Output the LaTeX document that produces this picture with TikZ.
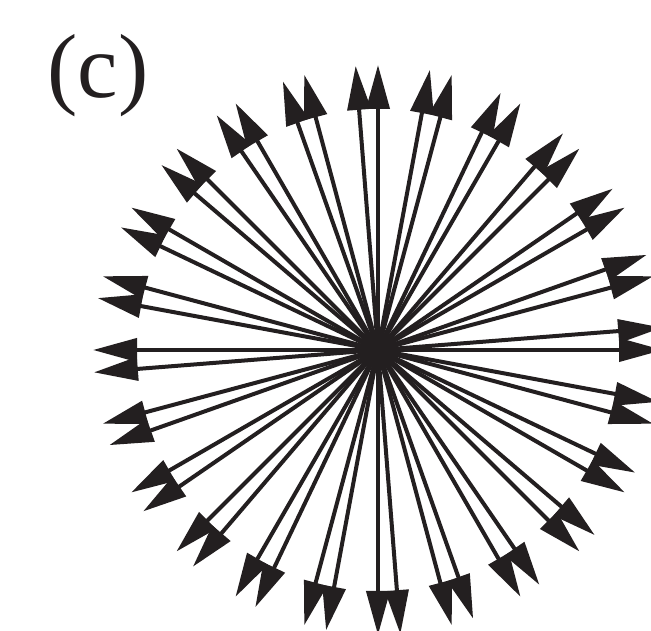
\documentclass[tikz,border=0pt]{standalone}
\usepackage{fontspec}
\setmainfont{Liberation Serif}
\usetikzlibrary{arrows.meta}
\definecolor{ink}{RGB}{35,31,32}
\begin{document}
\begin{tikzpicture}[x=1pt,y=1pt,
  ray/.style={draw=ink, line width=4pt, -{Triangle[length=44pt,width=23pt]}},
  lbl/.style={anchor=base, text=ink, inner sep=0pt, font=\fontsize{91}{91}\selectfont}]
\useasboundingbox (0,0) rectangle (651,631);
\node[lbl] (label) at (98,533) {(c)};
\coordinate (c) at (378,281);
\foreach \k in {0,...,23} {
  \foreach \d [count=\j] in {0,4.5} {
    \pgfmathsetmacro\a{15*\k+\d}
    \coordinate (t\k-\j) at ([shift={(\a:285)}]c);
    \draw[ray] (c) -- (t\k-\j);
  }
}
\end{tikzpicture}
\end{document}
